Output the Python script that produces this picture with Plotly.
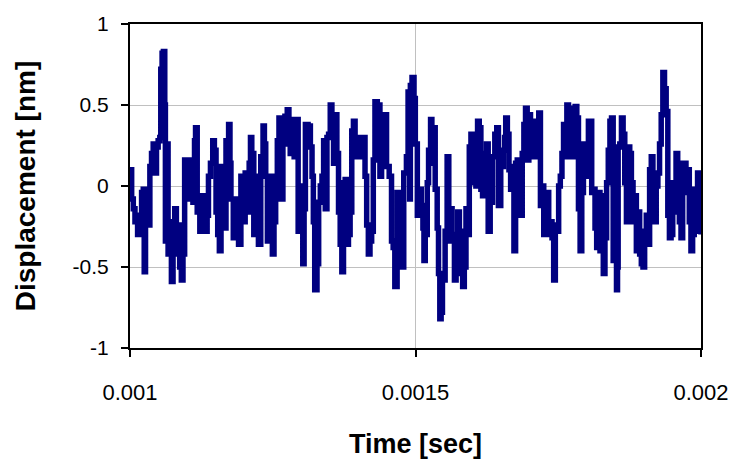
import plotly.graph_objects as go

# time offsets (microseconds after 1 ms) and displacement (nm)
time_us = [
    0, 2.9, 5.8, 8.7, 13.3, 17.4, 20.3, 23.2, 24.9, 27.2, 29.6, 31.9, 34.8, 37.7, 40.6, 43.5,
    46.4, 49.3, 52.2, 53.9, 56.2, 58.5, 60.9, 62.0, 64.3, 66.7, 70.1, 72.5, 75.4, 78.3, 81.2,
    84.1, 87.0, 89.9, 92.8, 95.7, 98.6, 101.5, 104.4, 107.3, 110.2, 113.0, 114.8, 117.7, 120.0,
    122.3, 125.8, 128.1, 131.6, 135.1, 137.4, 140.9, 144.9, 147.8, 150.7, 153.6, 156.5, 159.4,
    164.0, 165.2, 168.1, 172.7, 175.1, 176.8, 180.9, 183.8, 186.7, 190.1, 194.2, 198.2, 201.7,
    205.8, 208.7, 211.0, 213.3, 216.8, 220.3, 224.9, 229.0, 233.0, 235.4, 237.7, 240.6, 244.6,
    249.3, 252.2, 255.1, 258.0, 260.9, 264.4, 267.8, 271.3, 275.4, 278.3, 280.6, 284.1, 287.5,
    291.0, 294.5, 298.5, 302.6, 304.9, 307.2, 311.9, 315.9, 318.8, 321.1, 323.5, 327.5, 330.4,
    333.3, 336.2, 339.1, 342.0, 344.9, 347.8, 350.7, 353.6, 356.5, 359.4, 362.3, 365.2, 368.1,
    371.0, 373.9, 376.8, 379.7, 382.6, 385.5, 388.4, 391.3, 394.2, 397.1, 400.0, 402.9, 408.7,
    411.6, 414.5, 417.4, 420.3, 423.2, 426.1, 429.0, 433.1, 437.7, 440.6, 442.3, 446.4, 449.3,
    453.9, 458.0, 460.9, 463.8, 467.8, 471.3, 475.4, 479.4, 484.1, 487.0, 489.8, 491.0, 493.9,
    497.4, 499.7, 503.2, 507.2, 510.1, 513.0, 514.8, 517.1, 520.6, 522.9, 526.4, 528.7, 532.2,
    534.5, 538.0, 540.3, 542.6, 544.9, 547.2, 549.6, 551.9, 555.4, 558.3, 561.2, 564.1, 568.2,
    571.1, 574.0, 576.9, 579.8, 582.6, 585.5, 588.4, 591.3, 594.2, 597.1, 600.0, 602.9, 605.8,
    608.7, 611.6, 614.5, 617.4, 620.3, 624.4, 627.3, 630.8, 634.8, 638.9, 642.3, 645.2, 649.3,
    653.9, 656.0, 658.0, 660.9, 663.7, 666.6, 669.5, 672.4, 675.3, 678.2, 681.1, 684.0, 686.9,
    689.8, 692.7, 695.6, 698.5, 701.4, 704.3, 707.2, 710.1, 713.0, 715.9, 718.8, 721.7, 724.6,
    727.5, 730.4, 733.3, 736.2, 739.1, 742.0, 744.9, 747.8, 750.7, 753.6, 756.5, 759.3, 762.2,
    765.1, 768.0, 770.9, 773.8, 776.7, 779.6, 782.5, 785.4, 788.3, 791.2, 794.1, 797.0, 799.9,
    802.8, 805.7, 808.6, 811.5, 814.4, 817.3, 820.2, 823.1, 824.5, 826.0, 828.9, 831.8, 834.7,
    837.6, 840.5, 843.3, 846.2, 849.1, 852.0, 853.8, 854.9, 857.8, 860.7, 863.6, 866.5, 869.4,
    872.3, 875.2, 878.1, 881.0, 883.9, 886.8, 889.7, 892.6, 895.5, 898.4, 901.3, 904.2, 907.1,
    910.0, 912.9, 915.8, 918.7, 921.6, 924.5, 927.4, 930.3, 933.2, 936.1, 939.0, 941.9, 944.7,
    947.6, 950.5, 953.4, 956.3, 959.2, 962.1, 965.0, 967.9, 970.8, 973.7, 976.6, 979.5, 982.4,
    985.3, 988.2, 991.1, 994.0, 996.9, 1000.0,
]

disp_nm = [
    0.10, -0.08, -0.14, -0.22, -0.30, -0.18, -0.04, -0.02, -0.53, -0.22, -0.02, -0.24, 0.12, 0.20, 0.26, 0.08,
    0.24, 0.28, 0.30, 0.72, 0.82, 0.83, 0.50, -0.34, 0.26, -0.42, -0.22, -0.59, -0.30, -0.14, -0.42,
    -0.24, -0.50, -0.58, -0.42, 0.16, 0.00, -0.08, 0.16, 0.06, -0.10, 0.28, 0.36, -0.16, -0.06,
    -0.28, -0.12, -0.06, -0.28, -0.18, 0.06, 0.14, 0.28, 0.22, -0.16, -0.30, -0.40, 0.12,
    0.10, -0.26, 0.28, 0.38, 0.14, -0.08, -0.32, -0.10, -0.08, -0.36, 0.06, -0.22, 0.08,
    -0.16, 0.14, 0.30, 0.20, -0.30, 0.06, -0.36, 0.18, 0.37, 0.26, 0.06, -0.34, 0.06,
    -0.42, -0.22, -0.08, 0.28, 0.42, -0.08, 0.26, 0.43, 0.47, 0.36, 0.20, 0.41, 0.18,
    0.41, -0.28, 0.00, -0.48, -0.14, 0.38, 0.37, 0.24, 0.06, -0.22, -0.64, -0.48, -0.10,
    0.00, 0.06, 0.28, -0.14, 0.30, 0.32, 0.50, 0.44, 0.14, 0.44, 0.20, -0.16, -0.36,
    -0.53, 0.02, 0.04, -0.36, -0.30, -0.16, 0.34, 0.40, 0.18, 0.30, 0.22, 0.18, 0.30,
    0.06, -0.24, -0.42, -0.34, -0.28, 0.16, 0.52, 0.50, 0.06, 0.30, 0.44, 0.44, 0.12,
    0.06, -0.34, -0.38, -0.62, -0.04, -0.22, -0.50, 0.08, 0.18, 0.58, -0.08, 0.62, 0.67,
    0.54, 0.26, -0.18, -0.02, -0.12, -0.26, -0.46, -0.30, 0.02, 0.22, 0.41, 0.14, 0.36,
    -0.02, -0.26, -0.54, -0.82, -0.78, -0.58, -0.58, -0.28, 0.18, -0.34, -0.14, -0.30, -0.58,
    -0.30, -0.16, -0.54, -0.28, -0.62, -0.50, -0.14, -0.30, 0.24, 0.32, 0.02, 0.22, 0.00,
    0.40, 0.36, -0.02, -0.06, 0.20, 0.26, -0.28, -0.10, 0.18, 0.32, 0.36, -0.12, 0.12,
    0.22, 0.30, 0.42, 0.32, 0.10, -0.02, 0.12, -0.40, 0.14, 0.16, -0.16, -0.18, 0.20,
    0.38, 0.48, 0.16, 0.44, 0.30, 0.40, 0.18, 0.32, 0.18, 0.45, -0.12, 0.00, -0.30,
    -0.28, -0.04, -0.30, -0.22, -0.32, -0.58, -0.24, -0.28, 0.00, 0.06, 0.20, 0.38, 0.18,
    0.50, 0.20, 0.34, 0.18, 0.48, 0.49, 0.42, -0.14, -0.40, -0.04, 0.26, 0.06, 0.14,
    0.40, 0.40, -0.04, -0.02, -0.26, -0.38, -0.04, -0.40, -0.06, -0.30, -0.54, -0.32, 0.02,
    0.22, 0.40, 0.42, -0.46, -0.26, -0.64, -0.50, 0.24, 0.26, 0.42, 0.32, 0.02, -0.22,
    0.24, 0.20, 0.02, -0.22, -0.06, -0.40, -0.16, -0.42, -0.48, -0.50, -0.28, -0.18, -0.36,
    0.10, 0.18, 0.04, -0.22, 0.00, 0.08, 0.26, 0.44, 0.70, 0.60, 0.46, -0.18, -0.32,
    -0.30, 0.02, -0.16, 0.20, 0.14, -0.22, -0.32, 0.06, 0.14, -0.04, 0.10, -0.22, -0.40,
    -0.30, -0.02, -0.28, 0.08, -0.04, -0.30,
]

x_tick_vals = [0.001, 0.0015, 0.002]
x_tick_text = ["0.001", "0.0015", "0.002"]
y_tick_vals = [-1, -0.5, 0, 0.5, 1]
y_tick_text = ["-1", "-0.5", "0", "0.5", "1"]

time_s = [0.001 + t * 1e-6 for t in time_us]

fig = go.Figure(
    go.Scatter(
        x=time_s,
        y=disp_nm,
        mode="lines",
        line=dict(color="#000080", width=5.5, shape="hv"),
        showlegend=False,
    )
)

fig.update_layout(
    width=741,
    height=470,
    margin=dict(l=130, r=36, t=15, b=122),
    paper_bgcolor="white",
    plot_bgcolor="white",
    font=dict(family="Arial, Liberation Sans, sans-serif", color="black"),
)

fig.update_xaxes(
    range=[0.001, 0.002],
    tickvals=x_tick_vals,
    ticktext=x_tick_text,
    tickfont=dict(size=22),
    ticks="outside",
    ticklen=7,
    tickwidth=1.5,
    tickcolor="black",
    ticklabelstandoff=17,
    showline=True,
    linecolor="black",
    linewidth=2,
    mirror=True,
    showgrid=True,
    gridcolor="#c0c0c0",
    gridwidth=1,
    zeroline=False,
    title=dict(text="<b>Time [sec]</b>", font=dict(size=27), standoff=30),
)

fig.update_yaxes(
    range=[-1, 1],
    tickvals=y_tick_vals,
    ticktext=y_tick_text,
    tickfont=dict(size=21),
    ticks="outside",
    ticklen=7,
    tickwidth=1.5,
    tickcolor="black",
    ticklabelstandoff=8,
    showline=True,
    linecolor="black",
    linewidth=2,
    mirror=True,
    showgrid=True,
    gridcolor="#c0c0c0",
    gridwidth=1,
    zeroline=False,
    title=dict(text="<b>Displacement [nm]</b>", font=dict(size=28), standoff=29),
)

fig.write_html("out.html")
